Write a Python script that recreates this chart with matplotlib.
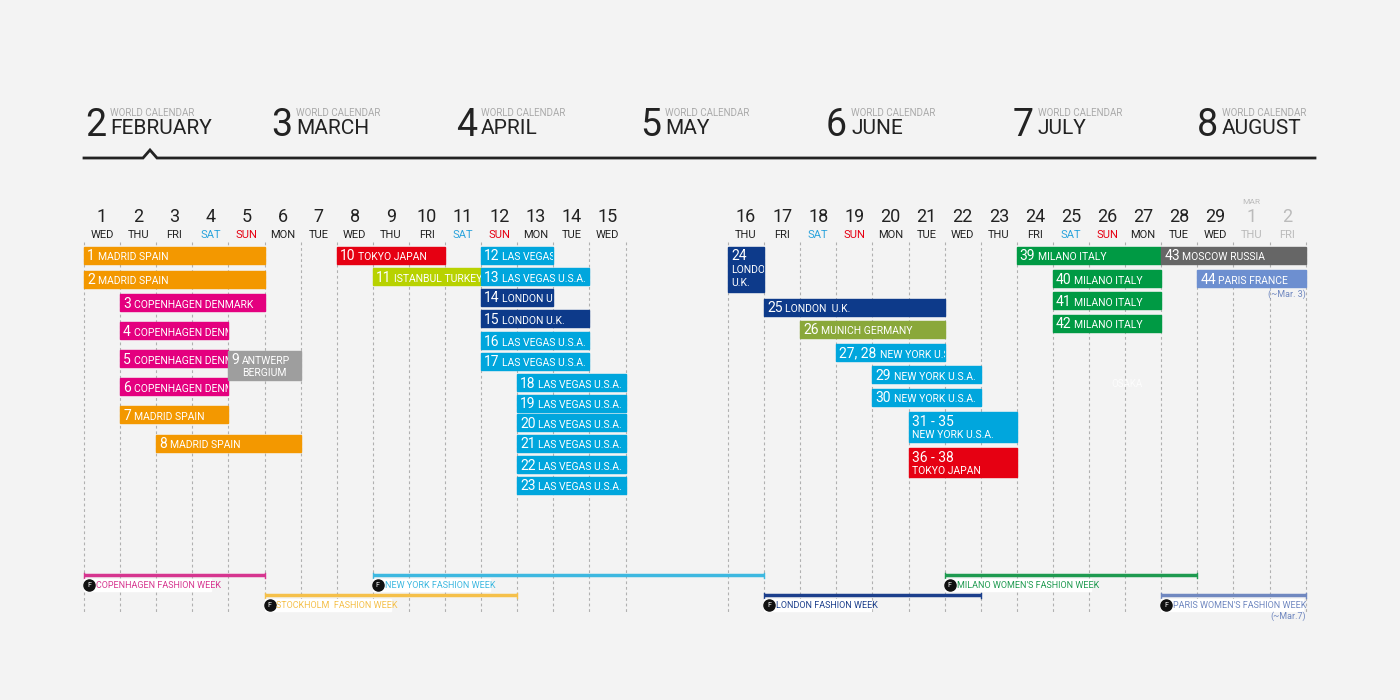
import matplotlib
matplotlib.use("Agg")
import matplotlib.pyplot as plt
from matplotlib.patches import Rectangle

plt.rcParams["font.family"] = ["Roboto", "DejaVu Sans"]
NARROW = ["Liberation Sans Narrow", "Roboto", "DejaVu Sans"]

# header months
month_nums = [2, 3, 4, 5, 6, 7, 8]
month_names = ["FEBRUARY", "MARCH", "APRIL", "MAY", "JUNE", "JULY", "AUGUST"]
month_x = [85, 271, 456, 640, 826, 1013, 1197]

# day columns
day_nums = list(range(1, 16)) + list(range(16, 30)) + [1, 2]
weekdays = ["WED", "THU", "FRI", "SAT", "SUN", "MON", "TUE"]
day_wd = [weekdays[i % 7] for i in range(15)] + [weekdays[(i + 1) % 7] for i in range(16)]

COL_W = 36.1


def col_left(k):
    return 84 + COL_W * k if k < 15 else 728 + COL_W * (k - 15)


def col_of(day, month=2):
    return day - 1 if month == 2 else 28 + day


ORANGE = "#f39800"
PINK = "#e4007f"
GREY = "#9e9e9e"
RED = "#e60012"
LIME = "#b8d200"
CYAN = "#00a6dd"
NAVY = "#0d3a8a"
OLIVE = "#8aa83a"
GREEN = "#009a44"
DGREY = "#666666"
PBLUE = "#6d8fd0"

# events: number, name ("|" = name below number), start, end, top y, height, colour
events = [
    ("1", "MADRID SPAIN", (1, 2), (5, 2), 247, 17, ORANGE),
    ("2", "MADRID SPAIN", (1, 2), (5, 2), 271, 17, ORANGE),
    ("3", "COPENHAGEN DENMARK", (2, 2), (5, 2), 294, 17, PINK),
    ("4", "COPENHAGEN DENMARK", (2, 2), (4, 2), 322, 17, PINK),
    ("5", "COPENHAGEN DENMARK", (2, 2), (4, 2), 350, 17, PINK),
    ("6", "COPENHAGEN DENMARK", (2, 2), (4, 2), 378, 17, PINK),
    ("7", "MADRID SPAIN", (2, 2), (4, 2), 406, 17, ORANGE),
    ("8", "MADRID SPAIN", (3, 2), (6, 2), 435, 17, ORANGE),
    ("9", "ANTWERP\nBERGIUM", (5, 2), (6, 2), 351, 29, GREY),
    ("10", "TOKYO JAPAN", (8, 2), (10, 2), 247, 17, RED),
    ("11", "ISTANBUL TURKEY", (9, 2), (11, 2), 268, 17, LIME),
    ("12", "LAS VEGAS U.S.A.", (12, 2), (13, 2), 247, 17, CYAN),
    ("13", "LAS VEGAS U.S.A.", (12, 2), (14, 2), 268, 17, CYAN),
    ("14", "LONDON U.K.", (12, 2), (13, 2), 289, 17, NAVY),
    ("15", "LONDON U.K.", (12, 2), (14, 2), 310, 17, NAVY),
    ("16", "LAS VEGAS U.S.A.", (12, 2), (14, 2), 332, 17, CYAN),
    ("17", "LAS VEGAS U.S.A.", (12, 2), (14, 2), 353, 17, CYAN),
    ("18", "LAS VEGAS U.S.A.", (13, 2), (15, 2), 374, 17, CYAN),
    ("19", "LAS VEGAS U.S.A.", (13, 2), (15, 2), 395, 17, CYAN),
    ("20", "LAS VEGAS U.S.A.", (13, 2), (15, 2), 414, 17, CYAN),
    ("21", "LAS VEGAS U.S.A.", (13, 2), (15, 2), 435, 17, CYAN),
    ("22", "LAS VEGAS U.S.A.", (13, 2), (15, 2), 456, 17, CYAN),
    ("23", "LAS VEGAS U.S.A.", (13, 2), (15, 2), 477, 17, CYAN),
    ("24", "|LONDON\nU.K.", (16, 2), (16, 2), 247, 45, NAVY),
    ("25", "LONDON  U.K.", (17, 2), (21, 2), 299, 17, NAVY),
    ("26", "MUNICH GERMANY", (18, 2), (21, 2), 321, 17, OLIVE),
    ("27, 28", "NEW YORK U.S.A.", (19, 2), (21, 2), 344, 17, CYAN),
    ("29", "NEW YORK U.S.A.", (20, 2), (22, 2), 366, 17, CYAN),
    ("30", "NEW YORK U.S.A.", (20, 2), (22, 2), 389, 17, CYAN),
    ("31 - 35", "|NEW YORK U.S.A.", (21, 2), (23, 2), 412, 30, CYAN),
    ("36 - 38", "|TOKYO JAPAN", (21, 2), (23, 2), 448, 29, RED),
    ("39", "MILANO ITALY", (24, 2), (27, 2), 247, 17, GREEN),
    ("43", "MOSCOW RUSSIA", (28, 2), (2, 3), 247, 17, DGREY),
    ("40", "MILANO ITALY", (25, 2), (27, 2), 270, 17, GREEN),
    ("44", "PARIS FRANCE", (29, 2), (2, 3), 270, 17, PBLUE),
    ("41", "MILANO ITALY", (25, 2), (27, 2), 292, 17, GREEN),
    ("42", "MILANO ITALY", (25, 2), (27, 2), 315, 17, GREEN),
]

# fashion weeks: name, first day, last day, line y, colour
weeks = [
    ("COPENHAGEN FASHION WEEK", (1, 2), (5, 2), 575, "#d6358f"),
    ("STOCKHOLM  FASHION WEEK", (6, 2), (12, 2), 595, "#f5c04a"),
    ("NEW YORK FASHION WEEK", (9, 2), (16, 2), 575, "#3db8e0"),
    ("LONDON FASHION WEEK", (17, 2), (22, 2), 595, "#1c3f8c"),
    ("MILANO WOMEN'S FASHION WEEK", (22, 2), (28, 2), 575, "#1e9a50"),
    ("PARIS WOMEN'S FASHION WEEK", (28, 2), (2, 3), 595, "#7088c0"),
]

fig = plt.figure(figsize=(14, 7), dpi=100, facecolor="#f3f3f3")
ax = fig.add_axes([0, 0, 1, 1])
ax.set_xlim(0, 1400)
ax.set_ylim(700, 0)
ax.axis("off")

# header
for n, name, x in zip(month_nums, month_names, month_x):
    ax.text(x, 136, str(n), fontsize=27, color="#222", va="baseline")
    ax.text(x + 25, 116, "WORLD CALENDAR", fontsize=7, color="#aaa", va="baseline")
    ax.text(x + 25, 134, name, fontsize=15, color="#222", va="baseline")
ax.plot([84, 143, 150, 157, 1315], [158, 158, 150, 158, 158], color="#222", lw=2, solid_joinstyle="miter")

# day header
for k, (d, wd) in enumerate(zip(day_nums, day_wd)):
    cx = col_left(k) + COL_W / 2
    mar = k >= 29
    dc = "#bbb" if mar else "#222"
    wc = "#bbb" if mar else {"SAT": "#2aa3dc", "SUN": "#e60012"}.get(wd, "#222")
    ax.text(cx, 222, str(d), fontsize=13, color=dc, ha="center", va="baseline")
    ax.text(cx, 238, wd, fontsize=8, color=wc, ha="center", va="baseline")
ax.text(col_left(29) + COL_W / 2, 204, "MAR", fontsize=6, color="#bbb", ha="center", va="baseline")

# dashed grid
grid_x = [col_left(k) for k in range(len(day_nums))] + [col_left(14) + COL_W, col_left(30) + COL_W]
for x in grid_x:
    ax.plot([x, x], [242, 612], color="#b0b0b0", lw=0.8, ls=(0, (2.5, 2.5)), zorder=1)


def num_width(s):
    return sum(3.5 if ch in ", -" else 7.6 for ch in s)


# events
for num, name, (sd, sm), (ed, em), top, h, c in events:
    x0 = col_left(col_of(sd, sm))
    x1 = col_left(col_of(ed, em)) + COL_W
    rect = Rectangle((x0, top), x1 - x0, h, color=c, zorder=3)
    ax.add_patch(rect)
    base = top + 13.5
    texts = [ax.text(x0 + 3, base, num, fontsize=10, color="white", va="baseline", zorder=4)]
    if name.startswith("|"):
        for i, line in enumerate(name[1:].split("\n")):
            texts.append(ax.text(x0 + 3, base + 12.5 * (i + 1), line, fontsize=7.5, color="white",
                                 va="baseline", family=NARROW, zorder=4))
    else:
        for i, line in enumerate(name.split("\n")):
            texts.append(ax.text(x0 + 6 + num_width(num), base + 12 * i, line, fontsize=7.5,
                                 color="white", va="baseline", family=NARROW, zorder=4))
    for t in texts:
        t.set_clip_on(True)
        t.set_clip_path(rect)

ax.text(col_left(30) + COL_W, 297, "(~Mar. 3)", fontsize=6.5, color="#7088c0", ha="right", family=NARROW)
ax.text(1127, 387, "OSAKA", fontsize=7, color="white", ha="center", alpha=0.8)

# fashion weeks
for name, (sd, sm), (ed, em), y, c in weeks:
    x0 = col_left(col_of(sd, sm))
    x1 = col_left(col_of(ed, em)) + COL_W
    ax.plot([x0, x1], [y, y], color=c, lw=2.5, solid_capstyle="butt", zorder=3)
    ax.plot([x0, x0], [y - 2.5, y + 2.5], color=c, lw=1, zorder=3)
    ax.plot([x1, x1], [y - 2.5, y + 2.5], color=c, lw=1, zorder=3)
    ax.add_patch(Rectangle((x0, y + 4), len(name) * 4.9 + 14, 12, color="white", zorder=3))
    ax.plot(x0 + 5, y + 10, "o", ms=8, color="#111", zorder=4)
    ax.text(x0 + 5, y + 10.5, "F", fontsize=5, color="white", ha="center", va="center", zorder=5)
    ax.text(x0 + 12, y + 10.5, name, fontsize=6.5, color=c, va="center", family=NARROW, zorder=5)
ax.text(col_left(30) + COL_W, 619, "(~Mar.7)", fontsize=6.5, color="#7088c0", ha="right", family=NARROW)

fig.savefig("out.png", dpi=100, facecolor=fig.get_facecolor())
